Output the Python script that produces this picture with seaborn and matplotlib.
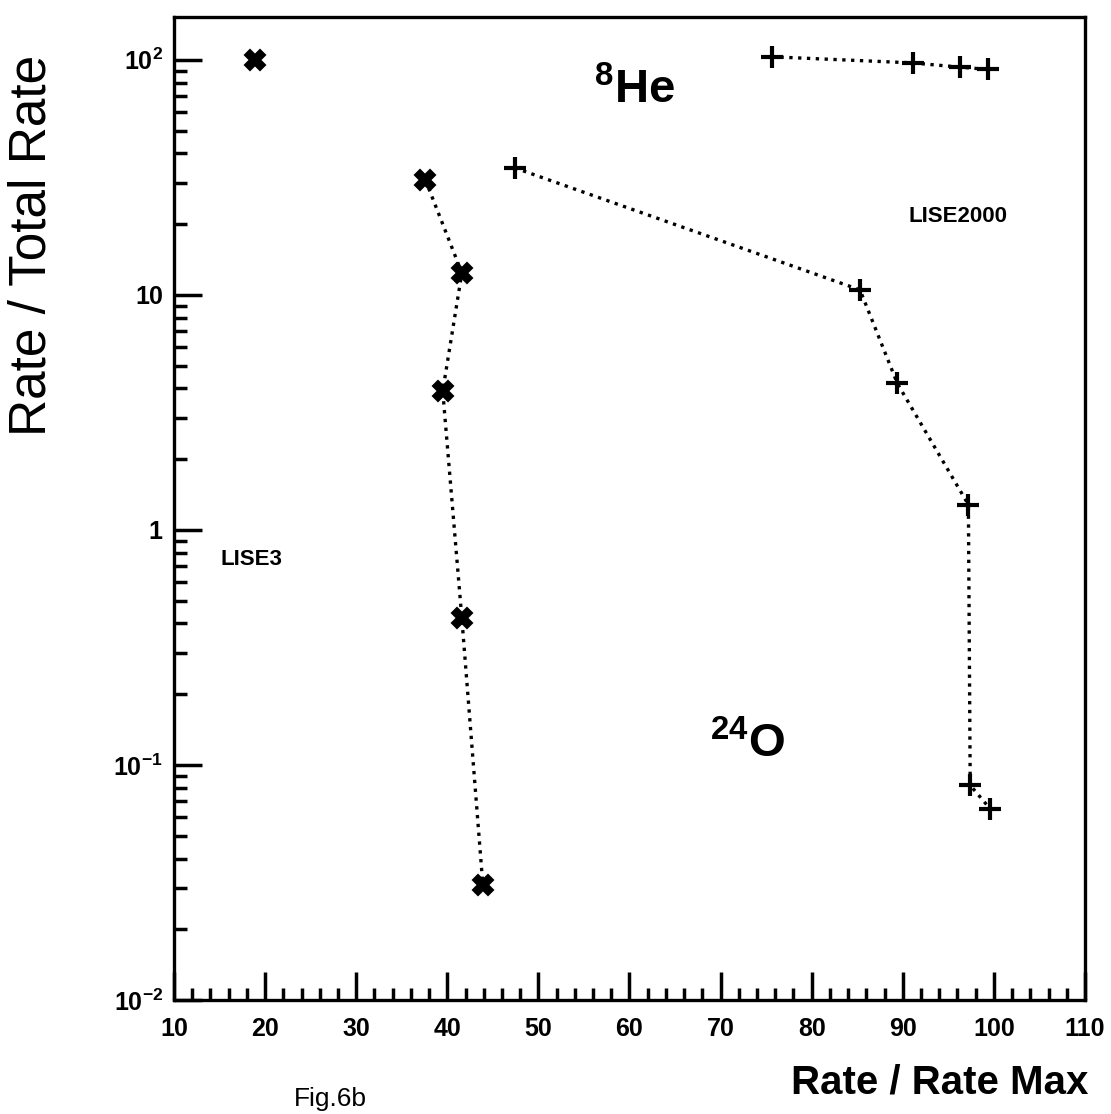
import matplotlib
matplotlib.use("Agg")
import matplotlib.pyplot as plt
import matplotlib.ticker as mticker
import seaborn as sns
import pandas as pd

# ---- data ----
he_lise3_x = [18.9]
he_lise3_y = [100.0]

he_lise2000_x = [75.6, 91.1, 96.3, 99.4]
he_lise2000_y = [103.0, 97.0, 93.0, 91.0]

o_lise3_x = [37.6, 41.6, 39.5, 41.6, 43.9]
o_lise3_y = [30.8, 12.4, 3.9, 0.42, 0.031]

o_lise2000_x = [47.4, 85.3, 89.4, 97.2, 97.4, 99.6]
o_lise2000_y = [34.7, 10.5, 4.2, 1.28, 0.082, 0.065]

xticks = [10, 20, 30, 40, 50, 60, 70, 80, 90, 100, 110]
yticks = [0.01, 0.1, 1, 10, 100]
ytick_labels = [r"$10^{-2}$", r"$10^{-1}$", "1", "10", r"$10^{2}$"]

sns.set_theme(style="white")
plt.rcParams["font.family"] = ["Liberation Sans", "DejaVu Sans"]
plt.rcParams["mathtext.fontset"] = "custom"
plt.rcParams["mathtext.rm"] = "Liberation Sans:bold"
plt.rcParams["mathtext.bf"] = "Liberation Sans:bold"
plt.rcParams["mathtext.default"] = "bf"
plt.rcParams["text.color"] = "black"
plt.rcParams["axes.labelcolor"] = "black"
plt.rcParams["xtick.color"] = "black"
plt.rcParams["ytick.color"] = "black"

fig = plt.figure(figsize=(11.11, 11.14), dpi=100)
ax = fig.add_axes([0.1566, 0.1023, 0.820, 0.8824])

def series(x, y, marker, ms, mew):
    df = pd.DataFrame({"x": x, "y": y})
    sns.lineplot(data=df, x="x", y="y", ax=ax, sort=False, estimator=None,
                 errorbar=None, color="black",
                 linestyle=":", linewidth=2.4, marker=marker, markersize=ms,
                 markeredgewidth=mew, markeredgecolor="black",
                 markerfacecolor="black")

series(he_lise3_x, he_lise3_y, "X", 15, 1.5)
series(o_lise3_x, o_lise3_y, "X", 15, 1.5)
series(he_lise2000_x, he_lise2000_y, "+", 16, 3)
series(o_lise2000_x, o_lise2000_y, "+", 16, 3)

ax.set_yscale("log")
ax.set_xlim(10, 110)
ax.set_ylim(0.01, 152)
ax.set_xlabel("")
ax.set_ylabel("")

ax.set_xticks(xticks)
ax.set_xticklabels([str(t) for t in xticks], fontweight="bold", fontsize=18)
ax.xaxis.set_minor_locator(mticker.MultipleLocator(2))
ax.set_yticks(yticks)
ax.set_yticklabels(ytick_labels, fontweight="bold", fontsize=18)
ax.yaxis.set_minor_locator(mticker.LogLocator(base=10, subs=range(2, 10), numticks=20))
ax.yaxis.set_minor_formatter(mticker.NullFormatter())

ax.tick_params(axis="both", which="major", direction="in", length=20, width=2.5,
               color="black", labelcolor="black")
ax.tick_params(axis="both", which="minor", direction="in", length=9, width=2.5,
               color="black")
ax.tick_params(axis="x", which="both", bottom=True, top=False, pad=12)
ax.tick_params(axis="y", which="both", left=True, right=False, pad=8)

for s in ax.spines.values():
    s.set_visible(True)
    s.set_color("black")
    s.set_linewidth(2.4)

# annotations
ax.text(0.505, 0.925, r"$^{8}$He", transform=ax.transAxes, fontsize=34,
        fontweight="bold", ha="center", va="center", color="black")
ax.text(0.861, 0.797, "LISE2000", transform=ax.transAxes, fontsize=16,
        fontweight="bold", ha="center", va="center", color="black")
ax.text(0.085, 0.448, "LISE3", transform=ax.transAxes, fontsize=16,
        fontweight="bold", ha="center", va="center", color="black")
ax.text(0.63, 0.26, r"$^{24}$O", transform=ax.transAxes, fontsize=34,
        fontweight="bold", ha="center", va="center", color="black")

fig.text(0.029, 0.78, "Rate / Total Rate", rotation=90, fontsize=37,
         ha="center", va="center", color="black")
fig.text(0.846, 0.028, "Rate / Rate Max", fontsize=29, fontweight="bold",
         ha="center", va="center", color="black")
fig.text(0.297, 0.003, "Fig.6b", fontsize=19, ha="center", va="bottom",
         color="black")

fig.savefig("out.png", dpi=100)
